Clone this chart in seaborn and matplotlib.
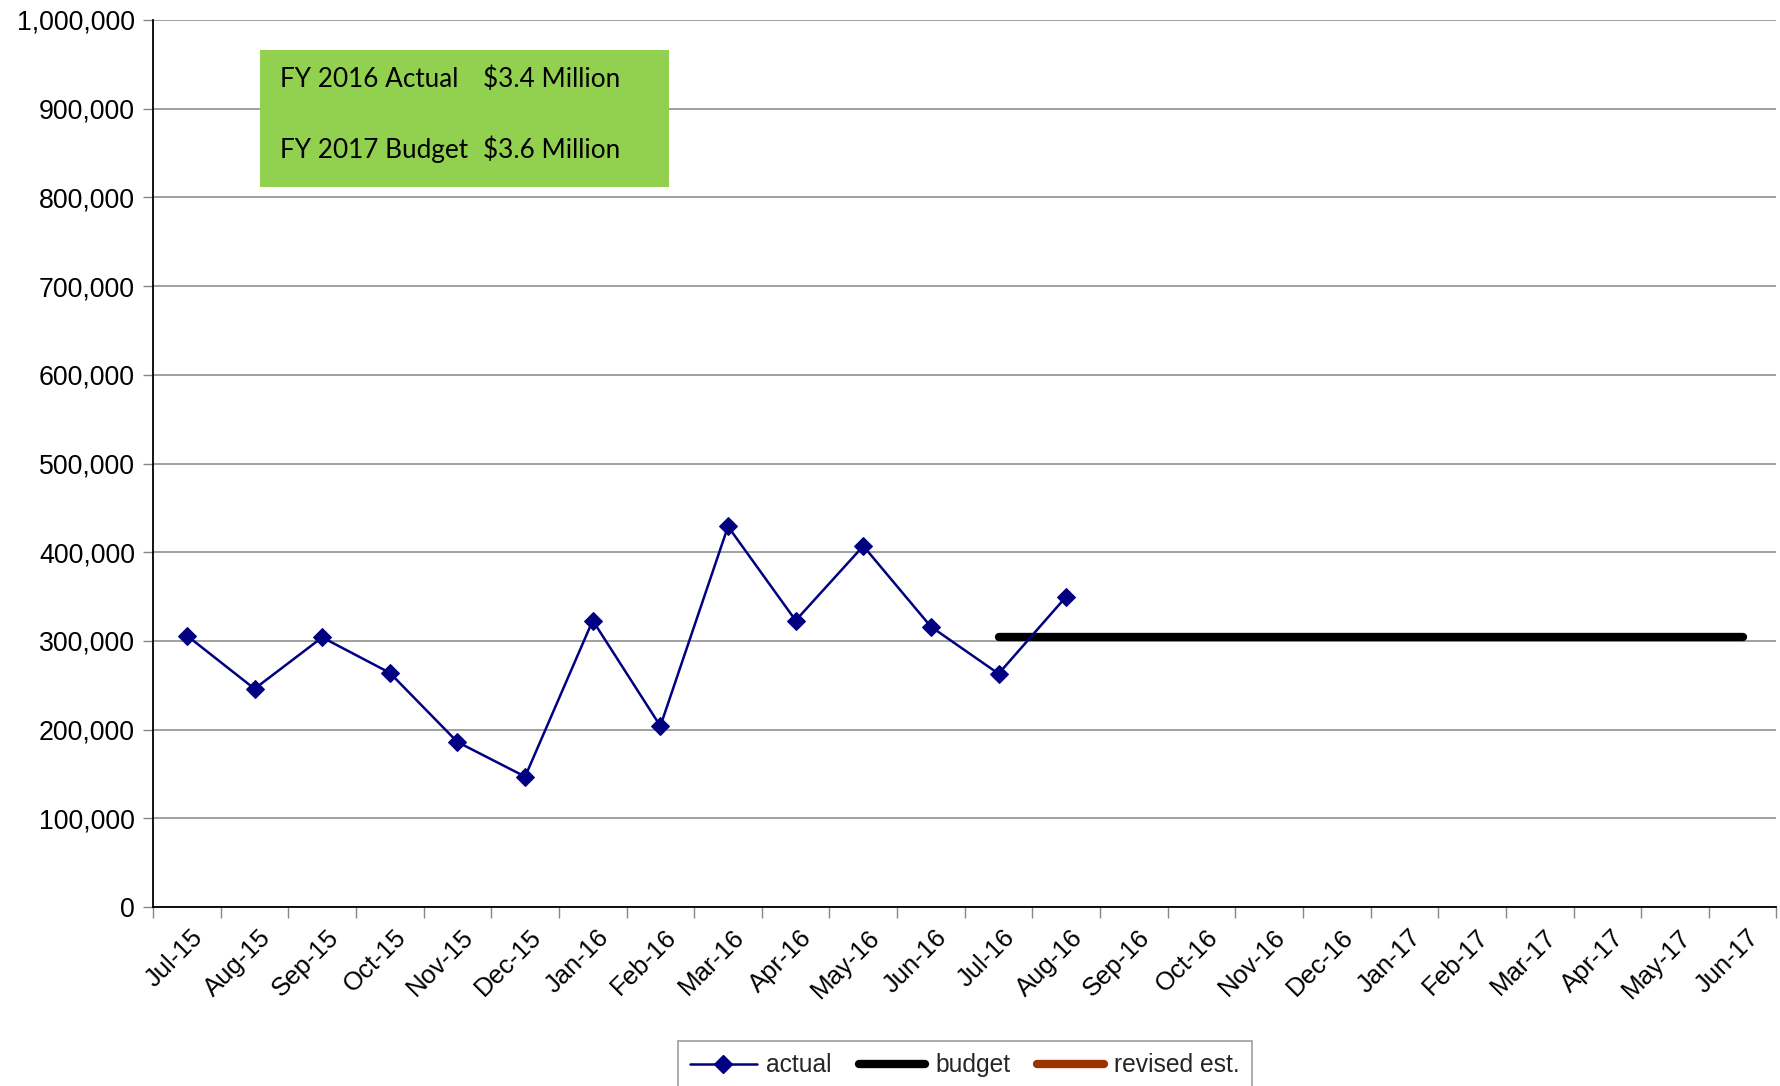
import numpy as np
import pandas as pd
import matplotlib
matplotlib.use("Agg")
import matplotlib.pyplot as plt
from matplotlib.ticker import FuncFormatter, FixedLocator
from matplotlib.lines import Line2D
import seaborn as sns

# Monthly figures, FY2016 actuals and FY2017 budget
months = ["Jul-15", "Aug-15", "Sep-15", "Oct-15", "Nov-15", "Dec-15",
          "Jan-16", "Feb-16", "Mar-16", "Apr-16", "May-16", "Jun-16",
          "Jul-16", "Aug-16", "Sep-16", "Oct-16", "Nov-16", "Dec-16",
          "Jan-17", "Feb-17", "Mar-17", "Apr-17", "May-17", "Jun-17"]
actual = [306000, 246000, 304000, 264000, 186000, 147000,
          323000, 204000, 429000, 323000, 407000, 316000,
          263000, 350000]
budget_months = months[12:]
budget = [304000] * 12
yticks = list(range(0, 1000001, 100000))

sns.set_style("white")
plt.rcParams["font.family"] = ["Liberation Sans", "DejaVu Sans"]

pos = {m: i for i, m in enumerate(months)}
df_actual = pd.DataFrame({"x": [pos[m] for m in months[:len(actual)]], "value": actual})
df_budget = pd.DataFrame({"x": [pos[m] for m in budget_months], "value": budget})

fig = plt.figure(figsize=(17.8, 10.86), dpi=100)
ax = fig.add_axes([0.086, 0.1648, 0.912, 0.8168])

sns.lineplot(data=df_budget, x="x", y="value", ax=ax, color="black",
             linewidth=6, solid_capstyle="round", zorder=2)
sns.lineplot(data=df_actual, x="x", y="value", ax=ax, color="#000080",
             linewidth=1.8, marker="D", markersize=9.5, markeredgecolor="#000080",
             zorder=3)

ax.set_xlim(-0.5, len(months) - 0.5)
ax.set_ylim(0, 1000000)
ax.set_xlabel("")
ax.set_ylabel("")

# y axis
ax.set_yticks(yticks)
ax.yaxis.set_major_formatter(FuncFormatter(lambda v, p: f"{v:,.0f}"))
ax.grid(axis="y", color="#868686", linewidth=1.1)
ax.grid(axis="x", visible=False)
ax.tick_params(axis="y", which="major", length=7, width=1, color="#868686",
               labelsize=19.3, pad=6, left=True, labelcolor="black")

# x axis: labels at month centres, tick marks between months
ax.set_xticks(range(len(months)))
ax.set_xticklabels(months, rotation=45, ha="right", rotation_mode="anchor")
ax.xaxis.set_minor_locator(FixedLocator(np.arange(-0.5, len(months), 1.0)))
ax.tick_params(axis="x", which="major", length=0, labelsize=18.5, pad=13, labelcolor="black")
ax.tick_params(axis="x", which="minor", length=8, width=1, color="#868686", bottom=True)
for lbl in ax.get_xticklabels():
    lbl.set_transform(lbl.get_transform() + matplotlib.transforms.ScaledTranslation(0.04, 0, fig.dpi_scale_trans))

for side in ("top", "right"):
    ax.spines[side].set_visible(False)
for side in ("left", "bottom"):
    ax.spines[side].set_color("black")
    ax.spines[side].set_linewidth(1.3)

# Summary box
box = matplotlib.patches.Rectangle((260 / 1780, 1 - 187 / 1086), 409 / 1780, 137 / 1086,
                                   transform=fig.transFigure, facecolor="#92D050",
                                   edgecolor="none", zorder=5)
fig.patches.append(box)
tfont = dict(family=["Lato", "DejaVu Sans"], fontsize=18.8, color="black", zorder=10)
fig.text(280 / 1780, 1 - 87 / 1086, "FY 2016 Actual", va="baseline", **tfont)
fig.text(483 / 1780, 1 - 87 / 1086, "$3.4 Million", va="baseline", **tfont)
fig.text(280 / 1780, 1 - 158 / 1086, "FY 2017 Budget", va="baseline", **tfont)
fig.text(483 / 1780, 1 - 158 / 1086, "$3.6 Million", va="baseline", **tfont)

# Legend
handles = [
    Line2D([], [], color="#000080", linewidth=1.8, marker="D", markersize=9.5),
    Line2D([], [], color="black", linewidth=6, solid_capstyle="round"),
    Line2D([], [], color="#993300", linewidth=6, solid_capstyle="round"),
]
leg = fig.legend(handles, ["actual", "budget", "revised est."], loc="upper center",
                 bbox_to_anchor=(0.542, 1 - 1041 / 1086), ncol=3, fontsize=17.7,
                 frameon=True, fancybox=False, edgecolor="#868686",
                 handlelength=2.7, handletextpad=0.4, columnspacing=1.1,
                 borderpad=0.5, borderaxespad=0)
leg.get_frame().set_linewidth(1.2)

fig.savefig("out.png", dpi=100)
